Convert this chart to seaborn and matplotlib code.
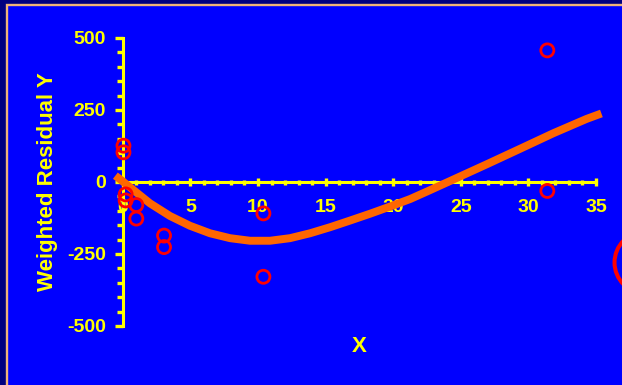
import matplotlib
matplotlib.use("Agg")
import matplotlib.pyplot as plt
import seaborn as sns
import pandas as pd
from matplotlib.lines import Line2D
from matplotlib.patches import Rectangle
from matplotlib.ticker import MultipleLocator

# ---- data ----
data_x = [0.05, 0.05, 0.21, 0.21, 1.0, 1.0, 3.05, 3.05, 10.4, 10.4, 31.4, 31.4]
data_y = [126, 103, -43, -64, -80, -127, -186, -226, -109, -329, 457, -31]

curve_x = [-0.55, 0.0, 1.0, 2.01, 3.49, 4.97, 6.45, 7.93, 9.41, 10.89,
           12.37, 13.85, 15.33, 16.8, 18.3, 19.78, 21.26, 22.5, 24.0,
           26.94, 29.37, 31.83, 34.3, 35.4]
curve_y = [22, 2, -36, -74, -118, -152, -178, -195, -204, -204,
           -195, -178, -157, -134, -110, -85, -59, -33, -1,
           62, 115, 169, 219, 238]

x_ticks = [0, 5, 10, 15, 20, 25, 30, 35]
y_ticks = [-500, -250, 0, 250, 500]
x_label = "X"
y_label = "Weighted Residual Y"
legend_label = ""

# ---- colours ----
NAVY = "#000080"
TAN = "#F0B478"
BLUE = "#0000FF"
YELLOW = "#FFFF00"
RED = "#FF0000"
ORANGE = "#FF6600"

sns.set_style("ticks")
plt.rcParams["font.family"] = ["Liberation Sans", "DejaVu Sans"]
plt.rcParams["font.weight"] = "bold"
plt.rcParams["axes.unicode_minus"] = False

W, H = 622, 385
fig = plt.figure(figsize=(W / 100, H / 100), dpi=100)
fig.patch.set_facecolor(NAVY)

panel = Rectangle((7 / W, -0.1), 1.2, (H - 5.5) / H + 0.1,
                  transform=fig.transFigure, facecolor=BLUE,
                  edgecolor=TAN, linewidth=1.7, zorder=-10)
fig.add_artist(panel)

ax_left, ax_right = 122.8 / W, 596 / W
ax_bottom, ax_top = (H - 326) / H, (H - 38) / H
ax = fig.add_axes([ax_left, ax_bottom, ax_right - ax_left, ax_top - ax_bottom])
ax.set_facecolor("none")

curve_df = pd.DataFrame({"x": curve_x, "y": curve_y})
data_df = pd.DataFrame({"x": data_x, "y": data_y})

sns.lineplot(data=curve_df, x="x", y="y", ax=ax, color=ORANGE, linewidth=5.7,
             estimator=None, sort=False, zorder=3)
for ln in ax.lines:
    ln.set_clip_on(False)
    ln.set_solid_capstyle("butt")
    ln.set_solid_joinstyle("round")

sns.scatterplot(data=data_df, x="x", y="y", ax=ax, marker="o", s=88,
                facecolors="none", edgecolor=RED, linewidth=2.0, zorder=4,
                clip_on=False)

ax.set_xlim(0, 35)
ax.set_ylim(-500, 500)

for side in ["top", "right"]:
    ax.spines[side].set_visible(False)
ax.spines["bottom"].set_position(("data", 0))
ax.spines["left"].set_position(("data", 0))
for side in ["bottom", "left"]:
    ax.spines[side].set_color(YELLOW)
    ax.spines[side].set_linewidth(2.2)
    ax.spines[side].set_zorder(2)

ax.set_xticks(x_ticks)
ax.set_yticks(y_ticks)
ax.xaxis.set_minor_locator(MultipleLocator(1))
ax.yaxis.set_minor_locator(MultipleLocator(50))

ax.tick_params(axis="x", which="major", direction="inout", length=6, width=2.4,
               color=YELLOW, labelcolor=YELLOW, labelsize=14, pad=9.0)
ax.tick_params(axis="x", which="minor", direction="inout", length=3.6, width=2.4,
               color=YELLOW)
ax.tick_params(axis="y", which="major", direction="out", length=6, width=2.4,
               color=YELLOW, labelcolor=YELLOW, labelsize=14, pad=6.3)
ax.tick_params(axis="y", which="minor", direction="out", length=4, width=2.4,
               color=YELLOW)
for lab in ax.get_xticklabels() + ax.get_yticklabels():
    lab.set_fontweight("bold")

ax.set_xlabel(x_label, color=YELLOW, fontsize=16, fontweight="bold", va="center")
ax.set_ylabel(y_label, color=YELLOW, fontsize=16, fontweight="bold", va="center")
ax.xaxis.set_label_coords(0.5, (326 - 347) / 288)
ax.yaxis.set_label_coords((47.5 - 122.8) / 473.2, 0.5)

handle = Line2D([], [], marker="o", markersize=44.6, markerfacecolor="none",
                markeredgecolor=RED, markeredgewidth=2.9, linestyle="none")
fig.legend(handles=[handle], labels=[legend_label], loc="center left",
           bbox_to_anchor=(645 / W, (H - 263.3) / H),
           bbox_transform=fig.transFigure, frameon=False, handlelength=0,
           borderpad=0, borderaxespad=0, handletextpad=0.5, labelcolor=YELLOW)

fig.savefig("out.png", dpi=100, facecolor=fig.get_facecolor())
